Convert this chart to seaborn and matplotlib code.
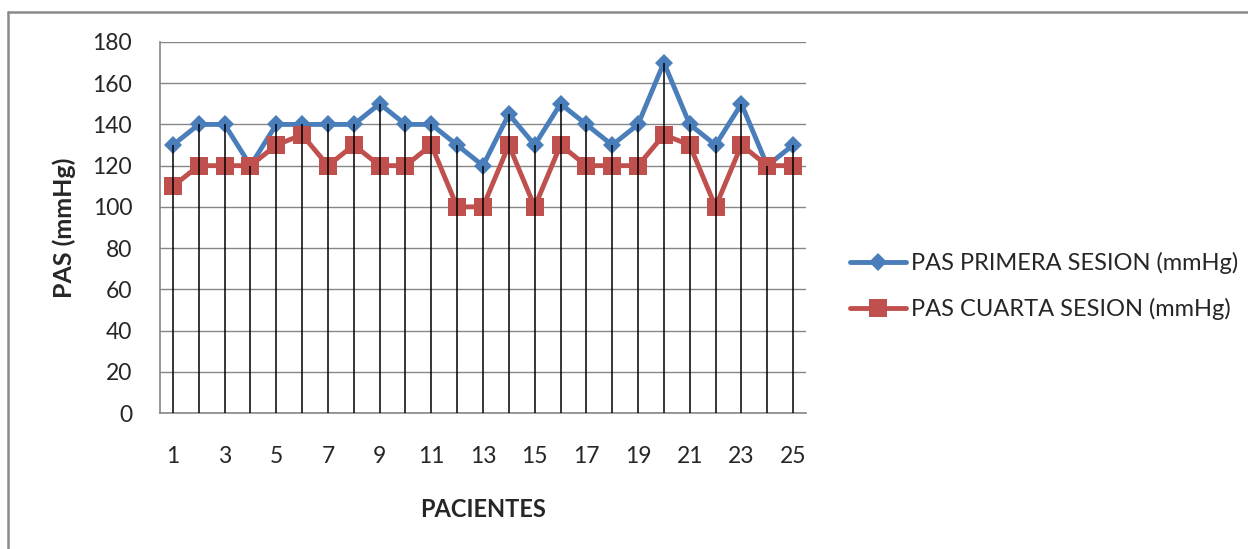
import matplotlib
matplotlib.use("Agg")
import matplotlib.pyplot as plt
from matplotlib.lines import Line2D
import seaborn as sns
import pandas as pd
import numpy as np

pacientes = list(range(1, 26))
pas_primera = [130, 140, 140, 120, 140, 140, 140, 140, 150, 140, 140, 130, 120,
               145, 130, 150, 140, 130, 140, 170, 140, 130, 150, 120, 130]
pas_cuarta = [110, 120, 120, 120, 130, 135, 120, 130, 120, 120, 130, 100, 100,
              130, 100, 130, 120, 120, 120, 135, 130, 100, 130, 120, 120]
serie_1 = "PAS PRIMERA SESION (mmHg)"
serie_2 = "PAS CUARTA SESION (mmHg)"
y_ticks = list(range(0, 181, 20))

sns.set_style("white")
plt.rcParams["font.family"] = ["Lato", "DejaVu Sans"]

azul = "#4A7EBB"
rojo = "#C0504D"

fig = plt.figure(figsize=(12.48, 5.49), dpi=100)
ax = fig.add_axes([160 / 1248, 1 - 413 / 549, (806 - 160) / 1248, (413 - 42) / 549])

df = pd.DataFrame({"Paciente": pacientes, serie_1: pas_primera, serie_2: pas_cuarta})

sns.lineplot(data=df, x="Paciente", y=serie_1, ax=ax, color=azul, lw=3.5,
             marker="D", markersize=9.5, markeredgewidth=0, label=serie_1, zorder=3)
sns.lineplot(data=df, x="Paciente", y=serie_2, ax=ax, color=rojo, lw=3.5,
             marker="s", markersize=13.5, markeredgewidth=0, label=serie_2, zorder=3)

# drop lines from the top value of each patient down to the axis
tope = np.maximum(pas_primera, pas_cuarta)
ax.vlines(pacientes, 0, tope, color="black", lw=1.1, zorder=4)

ax.set_xlim(0.5, 25.5)
ax.set_ylim(0, 180)
ax.set_yticks(y_ticks)
ax.set_xticks(pacientes[::2])
ax.tick_params(axis="y", length=10, width=1, color="#868686", pad=10, labelsize=16.5)
ax.tick_params(axis="x", length=0, pad=24, labelsize=16.5)
ax.grid(axis="y", color="#868686", lw=1)
ax.set_axisbelow(True)
for s in ["top", "right"]:
    ax.spines[s].set_visible(False)
for s in ["left", "bottom"]:
    ax.spines[s].set_color("#868686")
    ax.spines[s].set_linewidth(1.2)

ax.set_xlabel("PACIENTES", fontsize=17, fontweight="bold", labelpad=22)
ax.set_ylabel("PAS (mmHg)", fontsize=18, fontweight="bold", labelpad=12)

ax.legend(loc="center left", bbox_to_anchor=(838 / 1248, 1 - 286 / 549),
          bbox_transform=fig.transFigure, frameon=False, fontsize=17,
          labelspacing=1.0, handlelength=2.4, handletextpad=0.2, borderpad=0)

# chart frame
fig.add_artist(Line2D([8 / 1248, 1], [1 - 11.5 / 549] * 2, color="#8a8a8a", lw=1.8))
fig.add_artist(Line2D([8 / 1248] * 2, [0, 1 - 11.5 / 549], color="#8a8a8a", lw=1.8))

fig.savefig("out.png", dpi=100, facecolor="white")
